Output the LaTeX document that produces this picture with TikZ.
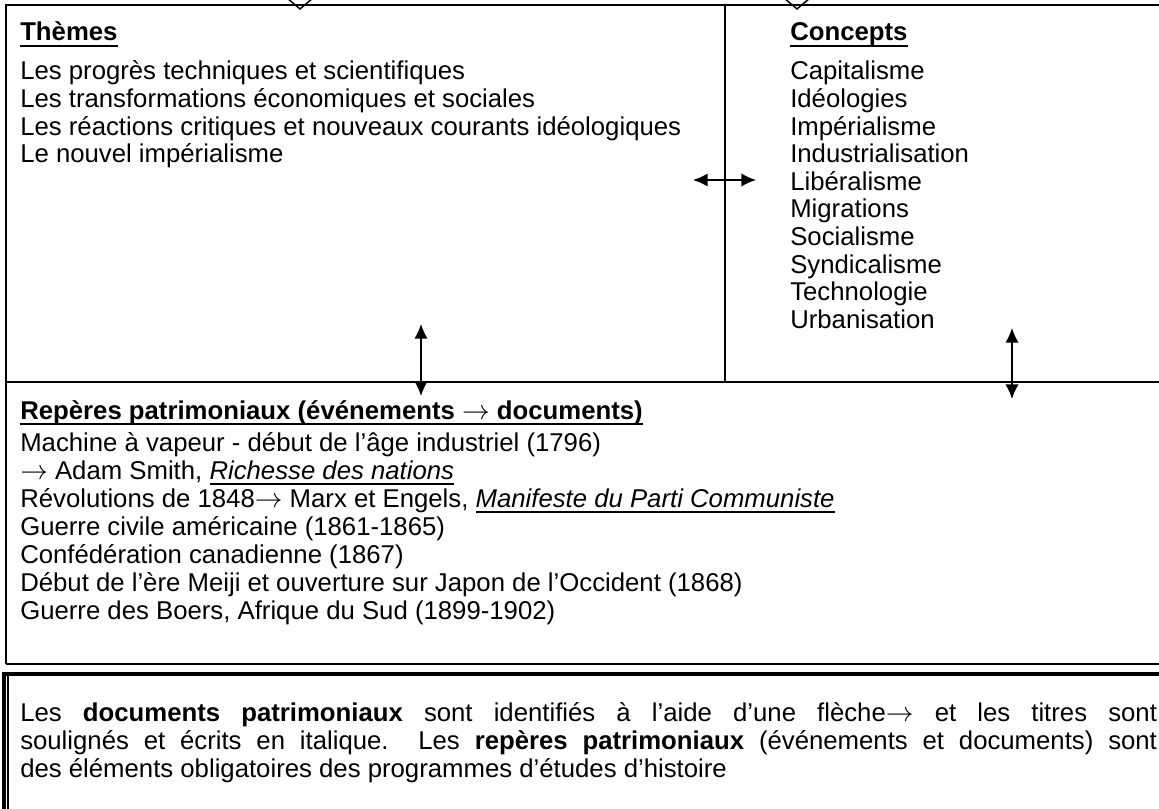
\documentclass[tikz,border=0pt]{standalone}
\usepackage{fontspec}
\setmainfont{Liberation Sans}
\usetikzlibrary{arrows.meta}

\newsavebox{\undlbox}
\newcommand{\undl}[1]{\sbox{\undlbox}{#1}\vtop{\hbox{\usebox{\undlbox}}\kern-\dp\undlbox\kern0.15em\hrule height 0.1em}}
\newcommand{\arr}{\ensuremath{\rightarrow}}

\tikzset{
    frame/.style={line width=1.5pt},
    notch/.style={line width=1.1pt},
    heading/.style={anchor=base west, inner sep=0pt, font=\bfseries\fontsize{19.3}{21}\selectfont},
    entry/.style={anchor=base west, inner sep=0pt, font=\fontsize{19.3}{21}\selectfont},
    twoway/.style={line width=1.1pt, {Latex[length=11pt,width=10pt]}-{Latex[length=11pt,width=10pt]}},
}

\begin{document}
\begin{tikzpicture}[x=0.75pt, y=-0.75pt]
    \useasboundingbox (0,0) rectangle (1159,809);

    % Upper box and its dividers
    \draw[frame] (6,664) -- (6,5) -- (1159,5);
    \draw[frame] (6,664) -- (1159,664);
    \draw[frame] (725,5) -- (725,382);
    \draw[frame] (6,382) -- (1159,382);

    % Tips coming in from above
    \draw[notch] (287,-2) -- (300,9) -- (313,-2);
    \draw[notch] (784,-2) -- (797,9) -- (810,-2);

    % Lower box with double edge
    \draw[line width=2.6pt] (4,812) -- (4,674) -- (1162,674);
    \draw[line width=0.9pt] (8,812) -- (8,676);

    % Themes
    \node[heading] (themes) at (20,41) {\undl{Thèmes}};
    \foreach \txt [count=\i] in {Les progrès techniques et scientifiques,
        Les transformations économiques et sociales,
        Les réactions critiques et nouveaux courants idéologiques,
        Le nouvel impérialisme}
        \node[entry] (theme\i) at (20,{52.4+27.6*\i}) {\txt};

    % Concepts
    \node[heading] (concepts) at (790,41) {\undl{Concepts}};
    \foreach \txt [count=\i] in {Capitalisme, Idéologies, Impérialisme,
        Industrialisation, Libéralisme, Migrations, Socialisme,
        Syndicalisme, Technologie, Urbanisation}
        \node[entry] (concept\i) at (790,{52.4+27.6*\i}) {\txt};

    % Reperes
    \node[heading] (reperes) at (20,419) {\undl{Repères patrimoniaux (événements \arr{} documents)}};
    \foreach \txt [count=\i] in {Machine à vapeur - début de l’âge industriel (1796),
        {\arr{} Adam Smith, \undl{\textit{Richesse des nations}}},
        {Révolutions de 1848\arr{} Marx et Engels, \undl{\textit{Manifeste du Parti Communiste}}},
        Guerre civile américaine (1861-1865),
        Confédération canadienne (1867),
        Début de l’ère Meiji et ouverture sur Japon de l’Occident (1868),
        {Guerre des Boers, Afrique du Sud (1899-1902)}}
        \node[entry] (repere\i) at (20,{423+28*\i}) {\txt};

    % Note
    \node[anchor=base west, inner sep=0pt, text width=852.5pt, align=justify,
        font=\fontsize{19.3}{21}\selectfont] (note) at (20,721)
        {Les \textbf{documents patrimoniaux} sont identifiés à l’aide d’une flèche\arr{} et les titres sont\linebreak
        soulignés et écrits en italique.\ \ Les \textbf{repères patrimoniaux} (événements et documents) sont\linebreak
        des éléments obligatoires des programmes d’études d’histoire};

    % Links between the parts
    \coordinate (linkL) at (693,180);
    \coordinate (linkR) at (756,180);
    \draw[twoway] (linkL) -- (linkR);
    \coordinate (themesDown) at (421,324);
    \coordinate (reperesUp) at (421,396);
    \draw[twoway] (themesDown) -- (reperesUp);
    \coordinate (conceptsDown) at (1012,328);
    \coordinate (reperesUpR) at (1012,399);
    \draw[twoway] (conceptsDown) -- (reperesUpR);
\end{tikzpicture}
\end{document}
